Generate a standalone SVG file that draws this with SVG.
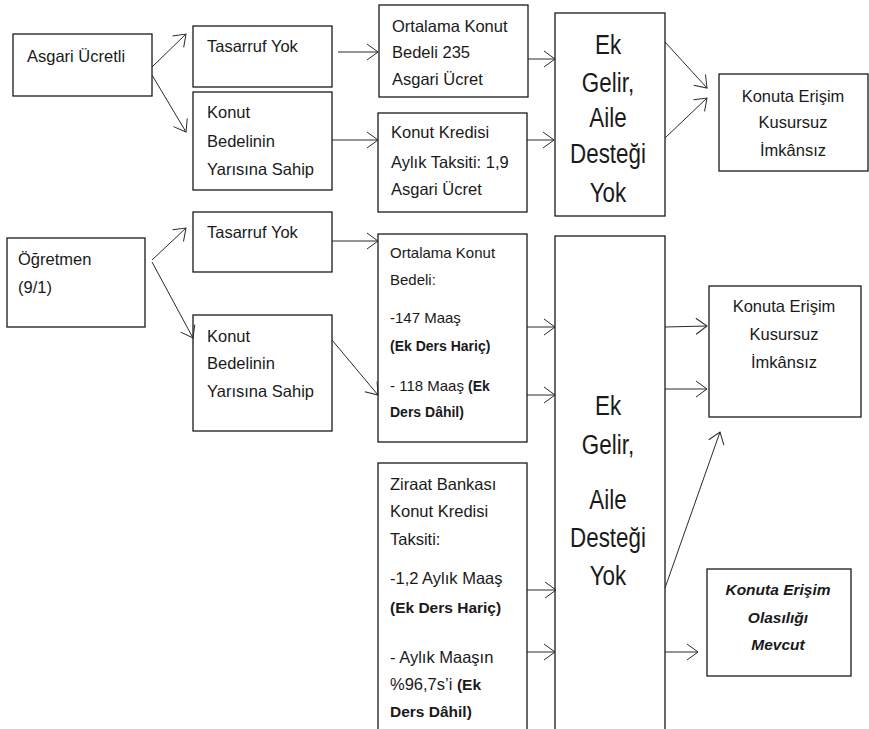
<svg xmlns="http://www.w3.org/2000/svg" width="869" height="729" viewBox="0 0 869 729">
<style>
.box{fill:#fff;stroke:#1a1a1a;stroke-width:1.3}
.t{font-family:"Liberation Sans",Arial,sans-serif;font-size:16.5px;fill:#1a1a1a}
.s{font-size:15px}
.b{font-weight:bold}
.m{text-anchor:middle}
.big{font-family:"Liberation Sans",Arial,sans-serif;font-size:28px;fill:#1a1a1a;text-anchor:middle}
.c{stroke:#2a2a2a;stroke-width:1;fill:none;marker-end:url(#ah)}
</style>
<defs>
<marker id="ah" markerUnits="userSpaceOnUse" markerWidth="14" markerHeight="20" refX="12" refY="10" orient="auto" viewBox="0 0 14 20">
<path d="M1,2 L12,10 L1,18" fill="none" stroke="#2a2a2a" stroke-width="1"/>
</marker>
<clipPath id="clip1"><rect x="379" y="5" width="149" height="83"/></clipPath>
</defs>
<rect width="869" height="729" fill="#fff"/>

<g id="asgari">
<rect class="box" x="13" y="34" width="139" height="62"/>
<text class="t" x="27" y="62">Asgari Ücretli</text>
</g>
<g id="tasarruf1">
<rect class="box" x="193" y="26" width="139" height="61"/>
<text class="t" x="207" y="52">Tasarruf Yok</text>
</g>
<g id="konut1">
<rect class="box" x="193" y="92" width="139" height="98"/>
<text class="t" x="207" y="118">Konut</text>
<text class="t" x="207" y="147">Bedelinin</text>
<text class="t" x="207" y="175">Yarısına Sahip</text>
</g>
<g id="ortalama1">
<rect class="box" x="379" y="5" width="149" height="92"/>
<g clip-path="url(#clip1)">
<text class="t" x="392" y="32">Ortalama Konut</text>
<text class="t" x="392" y="58">Bedeli 235</text>
<text class="t" x="392" y="85">Asgari Ücret</text>
</g>
</g>
<g id="kredi1">
<rect class="box" x="378" y="113" width="149" height="99"/>
<text class="t" x="391" y="138">Konut Kredisi</text>
<text class="t" x="391" y="168">Aylık Taksiti: 1,9</text>
<text class="t" x="391" y="195">Asgari Ücret</text>
</g>
<g id="ekgelir1">
<rect class="box" x="555" y="13" width="110" height="203"/>
<text class="big" transform="translate(608,54) scale(0.8,1)">Ek</text>
<text class="big" transform="translate(608,92) scale(0.8,1)">Gelir,</text>
<text class="big" transform="translate(608,127) scale(0.8,1)">Aile</text>
<text class="big" transform="translate(608,163) scale(0.8,1)">Desteği</text>
<text class="big" transform="translate(608,202) scale(0.8,1)">Yok</text>
</g>
<g id="konuta1">
<rect class="box" x="719" y="74" width="149" height="97"/>
<text class="t m" x="793" y="102">Konuta Erişim</text>
<text class="t m" x="793" y="128">Kusursuz</text>
<text class="t m" x="793" y="156">İmkânsız</text>
</g>

<g id="ogretmen">
<rect class="box" x="7" y="238" width="138" height="89"/>
<text class="t" x="18" y="265">Öğretmen</text>
<text class="t" x="18" y="293">(9/1)</text>
</g>
<g id="tasarruf2">
<rect class="box" x="193" y="212" width="139" height="60"/>
<text class="t" x="207" y="238">Tasarruf Yok</text>
</g>
<g id="konut2">
<rect class="box" x="193" y="315" width="139" height="116"/>
<text class="t" x="207" y="342">Konut</text>
<text class="t" x="207" y="369">Bedelinin</text>
<text class="t" x="207" y="397">Yarısına Sahip</text>
</g>
<g id="ortalama2">
<rect class="box" x="378" y="234" width="149" height="208"/>
<text class="t s" x="390" y="258">Ortalama Konut</text>
<text class="t s" x="390" y="285">Bedeli:</text>
<text class="t s" x="390" y="323">-147 Maaş</text>
<text class="t s b" x="390" y="351" style="font-size:14px">(Ek Ders Hariç)</text>
<text class="t s" x="390" y="391">- 118 Maaş <tspan class="b" style="font-size:14px">(Ek</tspan></text>
<text class="t s b" x="390" y="417" style="font-size:14px">Ders Dâhil)</text>
</g>
<g id="ziraat">
<rect class="box" x="378" y="463" width="149" height="280"/>
<text class="t" x="390" y="490">Ziraat Bankası</text>
<text class="t" x="390" y="517">Konut Kredisi</text>
<text class="t" x="390" y="545">Taksiti:</text>
<text class="t" x="390" y="584">-1,2 Aylık Maaş</text>
<text class="t b" x="390" y="613" style="font-size:15.5px">(Ek Ders Hariç)</text>
<text class="t" x="390" y="663">- Aylık Maaşın</text>
<text class="t" x="390" y="690">%96,7s’i <tspan class="b" style="font-size:15.5px">(Ek</tspan></text>
<text class="t b" x="390" y="717" style="font-size:15.5px">Ders Dâhil)</text>
</g>
<g id="ekgelir2">
<rect class="box" x="555" y="236" width="110" height="507"/>
<text class="big" transform="translate(608,415) scale(0.8,1)">Ek</text>
<text class="big" transform="translate(608,454) scale(0.8,1)">Gelir,</text>
<text class="big" transform="translate(608,509) scale(0.8,1)">Aile</text>
<text class="big" transform="translate(608,547) scale(0.8,1)">Desteği</text>
<text class="big" transform="translate(608,585) scale(0.8,1)">Yok</text>
</g>
<g id="konuta2">
<rect class="box" x="709" y="286" width="152" height="131"/>
<text class="t m" x="784" y="312">Konuta Erişim</text>
<text class="t m" x="784" y="340">Kusursuz</text>
<text class="t m" x="784" y="368">İmkânsız</text>
</g>
<g id="mevcut">
<rect class="box" x="707" y="569" width="144" height="107"/>
<text class="t m b" x="778" y="595" style="font-style:italic;font-size:15.5px">Konuta Erişim</text>
<text class="t m b" x="778" y="623" style="font-style:italic;font-size:15.5px">Olasılığı</text>
<text class="t m b" x="778" y="650" style="font-style:italic;font-size:15.5px">Mevcut</text>
</g>

<g id="connectors">
<path class="c" d="M152,67 L186,34"/>
<path class="c" d="M152,75 L186,132"/>
<path class="c" d="M338,52 L378,52"/>
<path class="c" d="M332,140 L378,140"/>
<path class="c" d="M528,59 L555,59"/>
<path class="c" d="M527,140 L554,140"/>
<path class="c" d="M665,42 L707,88"/>
<path class="c" d="M665,138 L707,98"/>
<path class="c" d="M152,260 L186,228"/>
<path class="c" d="M152,262 L193,338"/>
<path class="c" d="M332,241 L378,241"/>
<path class="c" d="M332,340 L378,395"/>
<path class="c" d="M527,327 L555,327"/>
<path class="c" d="M527,395 L555,395"/>
<path class="c" d="M527,590 L556,590"/>
<path class="c" d="M527,652 L555,652"/>
<path class="c" d="M665,327 L707,326"/>
<path class="c" d="M665,389 L707,389"/>
<path class="c" d="M665,588 L720,432"/>
<path class="c" d="M665,652 L698,652"/>
</g>
</svg>
